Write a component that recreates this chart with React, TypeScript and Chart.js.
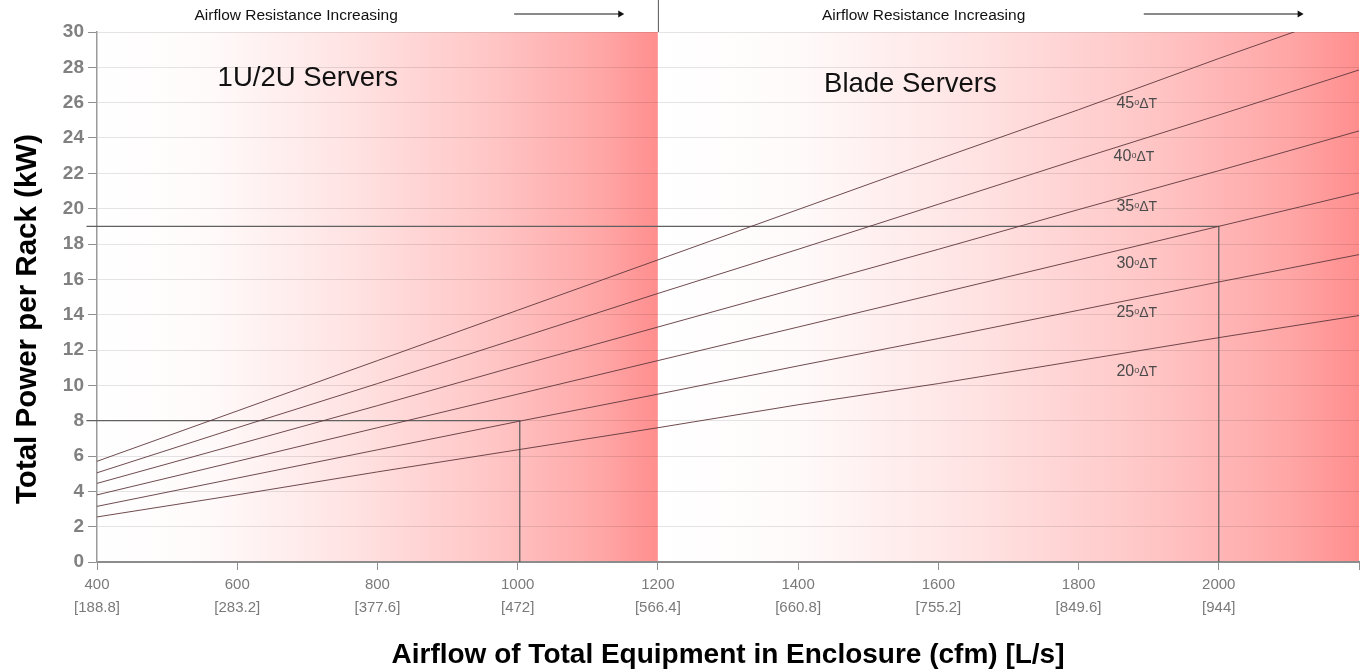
import React, { useEffect, useRef } from "react";
import { Chart, registerables } from "chart.js";

Chart.register(...registerables);

// ---- data ----
const airflowCfm = [400, 600, 800, 1000, 1200, 1400, 1600, 1800, 2000, 2200];
const airflowLs = ["188.8", "283.2", "377.6", "472", "566.4", "660.8", "755.2", "849.6", "944"];

const deltaTValues = [20, 25, 30, 35, 40, 45];
const power20 = [2.55, 3.8, 5.1, 6.35, 7.6, 8.9, 10.1, 11.4, 12.7, 13.95];
const power25 = [3.15, 4.75, 6.35, 7.95, 9.5, 11.1, 12.65, 14.25, 15.85, 17.4];
const power30 = [3.8, 5.7, 7.6, 9.5, 11.4, 13.3, 15.2, 17.1, 19.0, 20.9];
const power35 = [4.45, 6.65, 8.85, 11.1, 13.3, 15.5, 17.7, 19.95, 22.15, 24.4];
const power40 = [5.05, 7.6, 10.1, 12.65, 15.2, 17.7, 20.25, 22.8, 25.3, 27.85];
const power45 = [5.7, 8.55, 11.4, 14.25, 17.1, 19.95, 22.8, 25.6, 28.5, 31.3];

const curveLabelCfm = [1854, 1854, 1854, 1854, 1850, 1854];
const curveLabelKw = [10.87, 14.2, 17.0, 20.2, 23.03, 26.03];

const refLine1Cfm = [385, 1003, 1003];
const refLine1Kw = [8, 8, 0];
const refLine2Cfm = [385, 2000, 2000];
const refLine2Kw = [19, 19, 0];

const zoneBounds = [400, 1200, 2200];
const regionLabels = ["1U/2U Servers", "Blade Servers"];
const regionLabelCfm = [572, 1437];
const regionLabelKw = [27.4, 27.05];

const bannerText = "Airflow Resistance Increasing";
const bannerCenterCfm = [684, 1579];
const arrowStartCfm = [995, 1893];
const arrowEndCfm = [1152, 2121];

const FONT = '"Liberation Sans", Arial, Helvetica, sans-serif';

function pts(xs: number[], ys: number[]) {
  return xs.map((x, i) => ({ x, y: ys[i] }));
}

const gradientStops: [number, string][] = [
  [0, "#ffffff"],
  [0.2, "#fffafa"],
  [0.45, "#ffe3e3"],
  [0.7, "#ffc6c6"],
  [0.9, "#ffa6a6"],
  [1, "#ff8e8e"],
];

const backgroundPlugin = {
  id: "zoneBackground",
  beforeDraw(chart: any) {
    const { ctx, chartArea, scales } = chart;
    const xs = scales.x;
    ctx.save();
    for (let i = 0; i < zoneBounds.length - 1; i++) {
      const x0 = xs.getPixelForValue(zoneBounds[i]);
      const x1 = xs.getPixelForValue(zoneBounds[i + 1]);
      const g = ctx.createLinearGradient(x0, 0, x1, 0);
      gradientStops.forEach(([o, c]) => g.addColorStop(o, c));
      ctx.fillStyle = g;
      ctx.fillRect(x0, chartArea.top, x1 - x0, chartArea.bottom - chartArea.top);
    }
    ctx.restore();
  },
};

const annotationPlugin = {
  id: "annotations",
  afterDatasetsDraw(chart: any) {
    const { ctx, scales, chartArea } = chart;
    const xs = scales.x;
    const ys = scales.y;
    ctx.save();
    // region labels
    ctx.fillStyle = "#111";
    ctx.font = `27.5px ${FONT}`;
    ctx.textAlign = "left";
    ctx.textBaseline = "middle";
    regionLabels.forEach((t, i) => {
      ctx.fillText(t, xs.getPixelForValue(regionLabelCfm[i]), ys.getPixelForValue(regionLabelKw[i]));
    });
    // curve labels
    ctx.fillStyle = "#4a4a4a";
    ctx.textBaseline = "alphabetic";
    deltaTValues.forEach((d, i) => {
      let x = xs.getPixelForValue(curveLabelCfm[i]);
      const y = ys.getPixelForValue(curveLabelKw[i]) + 6;
      ctx.font = `16px ${FONT}`;
      const num = String(d);
      ctx.fillText(num, x, y);
      x += ctx.measureText(num).width;
      ctx.font = `9px ${FONT}`;
      ctx.fillText("o", x, y - 3);
      x += ctx.measureText("o").width;
      ctx.font = `14px ${FONT}`;
      ctx.fillText("ΔT", x, y);
    });
    ctx.restore();

    // banner
    ctx.save();
    const by = chartArea.top - 17;
    ctx.fillStyle = "#111";
    ctx.font = `15.5px ${FONT}`;
    ctx.textAlign = "center";
    ctx.textBaseline = "middle";
    bannerCenterCfm.forEach((c) => ctx.fillText(bannerText, xs.getPixelForValue(c), by + 1));
    arrowStartCfm.forEach((s, i) => {
      const x0 = xs.getPixelForValue(s);
      const x1 = xs.getPixelForValue(arrowEndCfm[i]);
      const ay = by - 1;
      ctx.strokeStyle = "#8a8a8a";
      ctx.lineWidth = 2;
      ctx.beginPath();
      ctx.moveTo(x0, ay);
      ctx.lineTo(x1 - 5, ay);
      ctx.stroke();
      ctx.fillStyle = "#111";
      ctx.beginPath();
      ctx.moveTo(x1, ay);
      ctx.lineTo(x1 - 6, ay - 3.5);
      ctx.lineTo(x1 - 6, ay + 3.5);
      ctx.closePath();
      ctx.fill();
    });
    // divider above plot
    const dx = xs.getPixelForValue(zoneBounds[1]);
    ctx.strokeStyle = "#555";
    ctx.lineWidth = 1;
    ctx.beginPath();
    ctx.moveTo(dx + 0.5, 0);
    ctx.lineTo(dx + 0.5, chartArea.top);
    ctx.stroke();

    // y title
    ctx.translate(28, chartArea.top + 287);
    ctx.rotate(-Math.PI / 2);
    ctx.fillStyle = "#000";
    ctx.font = `bold 29.5px ${FONT}`;
    ctx.textAlign = "center";
    ctx.textBaseline = "middle";
    ctx.fillText("Total Power per Rack (kW)", 0, 0);
    ctx.restore();
  },
};

const curveSeries = [power20, power25, power30, power35, power40, power45];

export default function App() {
  const canvasRef = useRef<HTMLCanvasElement>(null);

  useEffect(() => {
    document.body.style.margin = "0";
    const canvas = canvasRef.current;
    if (!canvas) return;

    const curveDatasets = curveSeries.map((s, i) => ({
      label: `${deltaTValues[i]}°ΔT`,
      data: pts(airflowCfm, s),
      borderColor: "rgba(95,55,60,0.9)",
      borderWidth: 1,
      pointRadius: 0,
      showLine: true,
      tension: 0,
      fill: false,
    }));
    const refDatasets = [
      { label: "ref1", data: pts(refLine1Cfm, refLine1Kw) },
      { label: "ref2", data: pts(refLine2Cfm, refLine2Kw) },
    ].map((d) => ({
      ...d,
      borderColor: "#606060",
      borderWidth: 1.3,
      pointRadius: 0,
      showLine: true,
      tension: 0,
      fill: false,
      clip: false as any,
    }));

    const chart = new Chart(canvas, {
      type: "scatter",
      data: { datasets: [...curveDatasets, ...refDatasets] as any },
      options: {
        animation: false,
        responsive: false,
        devicePixelRatio: 1,
        layout: { padding: { top: 32, right: 3, left: 0, bottom: 0 } },
        plugins: {
          legend: { display: false },
          tooltip: { enabled: false },
        },
        scales: {
          x: {
            type: "linear",
            min: 400,
            max: 2200,
            afterFit(scale: any) {
              scale.height = 110;
            },
            ticks: {
              stepSize: 200,
              color: "#7a7a7a",
              font: { family: FONT, size: 15, lineHeight: 1.5 },
              padding: 4,
              maxRotation: 0,
              autoSkip: false,
              callback(value: any) {
                const i = airflowCfm.indexOf(Number(value));
                if (i < 0 || i >= airflowLs.length) return "";
                return [String(value), "[" + airflowLs[i] + "]"];
              },
            },
            grid: {
              drawOnChartArea: false,
              drawTicks: true,
              tickLength: 8,
              tickColor: "#909090",
            },
            border: { color: "#8c8c8c", width: 2 },
            title: {
              display: true,
              text: "Airflow of Total Equipment in Enclosure (cfm) [L/s]",
              color: "#000",
              font: { family: FONT, size: 28, weight: "bold" },
              padding: { top: 0, bottom: 0 },
            },
          },
          y: {
            type: "linear",
            min: 0,
            max: 30,
            afterFit(scale: any) {
              scale.width = 97;
            },
            ticks: {
              stepSize: 2,
              color: "#808080",
              font: { family: FONT, size: 19, weight: "bold" },
              padding: 4,
            },
            grid: {
              color: "rgba(0,0,0,0.10)",
              lineWidth: 1,
              tickLength: 9,
              tickColor: "#909090",
            },
            border: { color: "#9a9a9a", width: 1.5 },
          },
        },
      },
      plugins: [backgroundPlugin, annotationPlugin],
    });
    return () => chart.destroy();
  }, []);

  return (
    <div style={{ width: 1363, height: 672, position: "absolute", left: 0, top: 0, background: "#fff" }}>
      <canvas ref={canvasRef} width={1363} height={672} />
    </div>
  );
}
